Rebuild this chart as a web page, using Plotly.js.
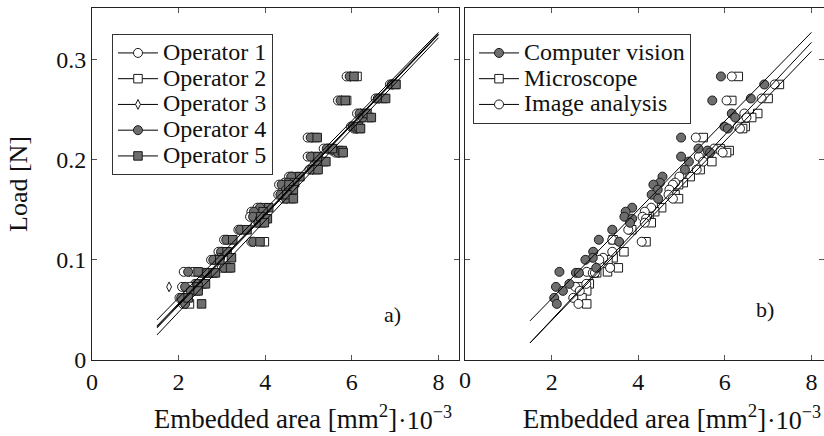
<!DOCTYPE html>
<html><head><meta charset="utf-8">
<script src="https://cdn.plot.ly/plotly-3.0.1.min.js"></script>
<style>html,body{margin:0;padding:0;background:#fff}#chart{width:824px;height:436px}</style>
</head><body><div id="chart"></div>
<script>
// Specimen loads [N]
const load = [0.283,0.259,0.275,0.261,0.246,0.242,0.233,0.231,0.222,0.211,0.209,0.207,0.203,0.198,0.190,0.183,0.177,0.175,0.170,0.165,0.161,0.152,0.148,0.143,0.141,0.137,0.130,0.120,0.118,0.108,0.102,0.100,0.092,0.088,0.087,0.087,0.076,0.073,0.069,0.062,0.056];
// Panel a) embedded area per operator [mm^2 * 1e-3]
const op1X = [5.88,5.68,6.88,6.55,6.12,6.20,5.98,6.05,4.98,5.35,5.55,5.62,4.98,5.15,5.02,4.55,4.45,4.32,4.42,4.30,4.42,3.82,3.68,3.65,3.82,3.78,3.38,3.05,3.68,2.92,2.92,2.75,3.00,2.12,2.50,2.60,2.38,2.08,2.22,2.02,2.10];
const op2X = [6.12,5.88,7.00,6.72,6.30,6.40,6.10,6.18,5.15,5.50,5.70,5.75,5.15,5.35,5.18,4.72,4.62,4.50,4.58,4.45,4.60,4.00,3.88,3.82,4.00,3.92,3.52,3.20,3.98,3.08,3.10,2.90,3.15,2.38,2.70,2.80,2.55,2.30,2.40,2.18,2.25];
const op3X = [5.97,5.76,6.95,6.63,6.20,6.28,6.05,6.12,5.08,5.45,5.62,5.70,5.08,5.25,5.10,4.62,4.55,4.40,4.50,4.38,4.50,3.90,3.78,3.75,3.92,3.86,3.45,3.12,3.75,3.00,3.00,2.82,3.08,2.25,2.58,2.68,2.45,1.78,2.30,2.10,2.18];
const op4X = [5.95,5.74,6.92,6.60,6.18,6.25,6.02,6.10,5.05,5.42,5.60,5.68,5.05,5.20,5.07,4.60,4.52,4.38,4.48,4.35,4.48,3.88,3.74,3.72,3.88,3.84,3.42,3.10,3.72,2.98,2.96,2.80,3.05,2.22,2.55,2.65,2.42,2.15,2.28,2.06,2.15];
const op5X = [6.05,5.85,7.02,6.78,6.35,6.45,6.15,6.20,5.20,5.55,5.78,5.80,5.22,5.40,5.22,4.80,4.68,4.55,4.65,4.50,4.65,4.08,3.95,3.90,4.05,3.98,3.58,3.25,3.88,3.12,3.22,2.95,3.20,2.45,2.80,2.85,2.62,2.45,2.45,2.22,2.53];
// Panel b) embedded area per method
const cvX = [5.91,5.71,6.91,6.60,6.16,6.24,5.99,6.07,4.99,5.39,5.60,5.66,4.99,5.17,5.08,4.56,4.50,4.35,4.45,4.31,4.46,3.86,3.71,3.68,3.86,3.81,3.40,3.09,3.56,2.96,2.95,2.78,3.03,2.18,2.56,2.63,2.41,2.10,2.26,2.06,2.12];
const msX = [6.31,6.16,7.26,7.00,6.76,6.62,6.47,6.41,5.50,5.89,6.10,6.04,5.62,5.70,5.43,5.20,5.04,4.93,4.77,4.85,4.93,4.54,4.38,4.25,4.21,4.30,3.85,3.42,4.18,3.67,3.42,3.30,3.54,3.29,3.04,2.98,2.87,2.66,2.81,2.70,2.81];
const iaX = [6.16,6.04,7.15,6.85,6.45,6.50,6.30,6.35,5.33,5.75,5.90,5.95,5.40,5.50,5.35,4.95,4.85,4.80,4.72,4.70,4.80,4.30,4.15,4.10,4.18,4.15,3.77,3.40,4.08,3.40,3.19,3.10,3.35,2.81,2.95,3.00,2.80,2.55,2.65,2.50,2.62];
// Linear fits (endpoints)
const fitX = [1.5, 8];
const fitOp1Y = [0.040, 0.327];
const fitOp2Y = [0.033, 0.325];
const fitOp3Y = [0.034, 0.3255];
const fitOp4Y = [0.032, 0.3245];
const fitOp5Y = [0.025, 0.3216];
const fitCvY = [0.039, 0.327];
const fitIaY = [0.017, 0.317];
const fitMsY = [0.017, 0.308];

const opNames = ['Operator 1','Operator 2','Operator 3','Operator 4','Operator 5'];
const methodNames = ['Computer vision','Microscope','Image analysis'];
const xTicks = [0,2,4,6,8];
const yTicks = [0,0.1,0.2,0.3];

const FONT = 'Liberation Serif, Times New Roman, serif';
const GRAY = '#6e6e6e';
const EDGE = '#1a1a1a';
const mk = (symbol, fill, size) => ({symbol: symbol, size: size, color: fill, line: {color: EDGE, width: 1}});
const opMarkers = [mk('circle','#fff',9), mk('square','#fff',8.5), mk('diamond-tall','#fff',7), mk('circle',GRAY,9), mk('square',GRAY,8.5)];
const methodMarkers = [mk('circle',GRAY,9), mk('square','#fff',8.5), mk('circle','#fff',9)];
const legText = n => '<span style="font-size:24px">' + n + '</span>';

const traces = [];
// legend entries
opNames.forEach((n,i) => traces.push({type:'scatter', mode:'lines+markers', x:[null], y:[null], name:legText(n),
  line:{color:'#000', width:1}, marker:opMarkers[i], legend:'legend', xaxis:'x', yaxis:'y'}));
methodNames.forEach((n,i) => traces.push({type:'scatter', mode:'lines+markers', x:[null], y:[null], name:legText(n),
  line:{color:'#000', width:1}, marker:methodMarkers[i], legend:'legend2', xaxis:'x2', yaxis:'y2'}));
// panel a data
const opXs = [op1X, op2X, op3X, op4X, op5X];
opXs.forEach((xs,i) => traces.push({type:'scatter', mode:'markers', x:xs, y:load, marker:opMarkers[i],
  showlegend:false, xaxis:'x', yaxis:'y', hoverinfo:'skip'}));
[fitOp1Y, fitOp2Y, fitOp3Y, fitOp4Y, fitOp5Y].forEach(fy => traces.push({type:'scatter', mode:'lines', x:fitX, y:fy,
  line:{color:'#000', width:1}, showlegend:false, xaxis:'x', yaxis:'y', hoverinfo:'skip'}));
// panel b data
[[msX,1],[iaX,2],[cvX,0]].forEach(([xs,i]) => traces.push({type:'scatter', mode:'markers', x:xs, y:load, marker:methodMarkers[i],
  showlegend:false, xaxis:'x2', yaxis:'y2', hoverinfo:'skip'}));
[fitCvY, fitIaY, fitMsY].forEach(fy => traces.push({type:'scatter', mode:'lines', x:fitX, y:fy,
  line:{color:'#000', width:1}, showlegend:false, xaxis:'x2', yaxis:'y2', hoverinfo:'skip'}));

const axBase = {showline:true, linecolor:'#222', linewidth:1, mirror:'ticks', ticks:'inside', ticklen:5,
  tickcolor:'#555', tickwidth:1, showgrid:false, zeroline:false,
  tickfont:{family:FONT, size:24, color:'#111'}};
const legBase = {xanchor:'left', yanchor:'top', bgcolor:'#fff', bordercolor:'#333', borderwidth:1,
  font:{family:FONT, size:17.5, color:'#111'}, itemwidth:40};
const annFont = s => ({family:FONT, size:s, color:'#111'});

const layout = {
  width:824, height:436, paper_bgcolor:'#fff', plot_bgcolor:'#fff',
  margin:{l:92, r:0, t:8, b:76}, showlegend:true,
  xaxis: Object.assign({}, axBase, {domain:[0,0.5014], range:[0,8.475], tickvals:xTicks, anchor:'y',
    title:{text:'Embedded area [mm<sup>2</sup>]', font:annFont(27), standoff:15}}),
  yaxis: Object.assign({}, axBase, {domain:[0,1], range:[0,0.3513], tickvals:yTicks, anchor:'x',
    title:{text:'Load [N]', font:annFont(26), standoff:21}}),
  xaxis2: Object.assign({}, axBase, {domain:[0.5096,1], range:[0,8.29], tickvals:xTicks.slice(1), anchor:'y2',
    title:{text:'Embedded area [mm<sup>2</sup>]', font:annFont(27), standoff:15}}),
  yaxis2: Object.assign({}, axBase, {domain:[0,1], range:[0,0.3513], tickvals:yTicks, anchor:'x2', showticklabels:false}),
  legend: Object.assign({}, legBase, {x:0.0273, y:0.926}),
  legend2: Object.assign({}, legBase, {x:0.5205, y:0.926}),
  annotations:[
    {text:'a)', xref:'x', yref:'y', x:6.93, y:0.045, showarrow:false, font:annFont(22)},
    {text:'b)', xref:'x2', yref:'y2', x:6.93, y:0.05, showarrow:false, font:annFont(22)},
    {text:'0', xref:'x2', yref:'paper', x:xTicks[0], y:-0.057, yanchor:'middle', showarrow:false, font:annFont(24)},
    {text:'·10<sup>−3</sup>', xref:'x', yref:'paper', x:7.02, xanchor:'left', y:-0.166, yanchor:'middle', showarrow:false, font:annFont(26)},
    {text:'·10<sup>−3</sup>', xref:'x2', yref:'paper', x:6.92, xanchor:'left', y:-0.166, yanchor:'middle', showarrow:false, font:annFont(26)}
  ]
};
Plotly.newPlot('chart', traces, layout, {staticPlot:true, displayModeBar:false});
</script></body></html>
